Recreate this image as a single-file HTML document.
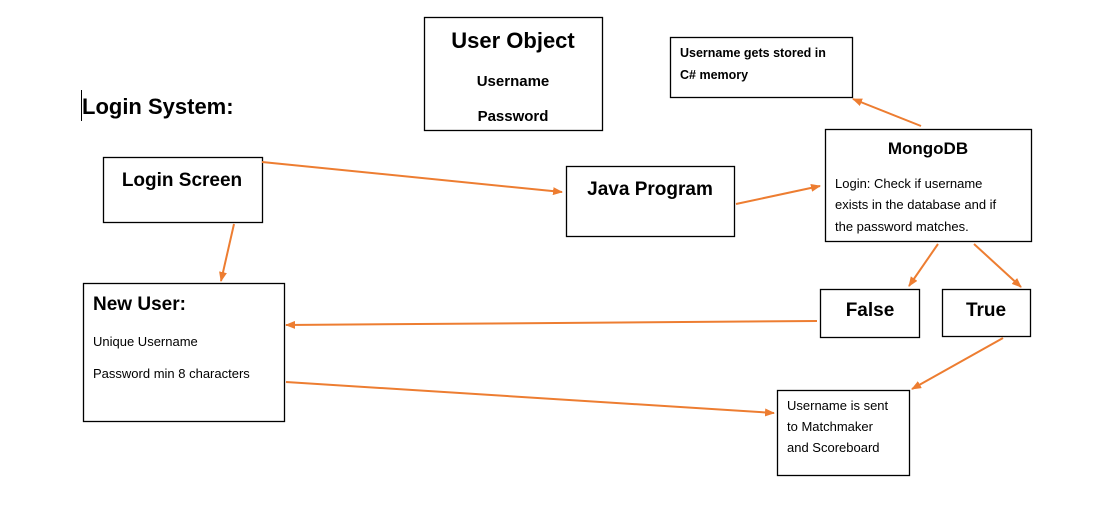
<!DOCTYPE html>
<html><head><style>
body{margin:0;background:#fff;}
svg{display:block;font-family:"Liberation Sans",sans-serif;}
.b{font-weight:bold;}
</style></head><body>
<svg width="1095" height="508" viewBox="0 0 1095 508">
<defs><marker id="a" markerWidth="10" markerHeight="8" refX="9" refY="4" orient="auto" markerUnits="userSpaceOnUse"><path d="M0,0 L10,4 L0,8 z" fill="#ED7D31"/></marker></defs>
<g fill="#fff" stroke="#000" stroke-width="1.3">
<rect x="424.5" y="17.5" width="178" height="113"/>
<rect x="670.5" y="37.5" width="182" height="60"/>
<rect x="103.5" y="157.5" width="159" height="65"/>
<rect x="566.5" y="166.5" width="168" height="70"/>
<rect x="825.5" y="129.5" width="206" height="112"/>
<rect x="83.5" y="283.5" width="201" height="138"/>
<rect x="820.5" y="289.5" width="99" height="48"/>
<rect x="942.5" y="289.5" width="88" height="47"/>
<rect x="777.5" y="390.5" width="132" height="85"/>
</g>
<g stroke="#ED7D31" stroke-width="2" marker-end="url(#a)">
<line x1="262" y1="162" x2="562" y2="192"/>
<line x1="736" y1="204" x2="820" y2="186"/>
<line x1="921" y1="126" x2="853" y2="99"/>
<line x1="234" y1="224" x2="221" y2="281"/>
<line x1="938" y1="244" x2="909" y2="286"/>
<line x1="974" y1="244" x2="1021" y2="287"/>
<line x1="817" y1="321" x2="286" y2="325"/>
<line x1="286" y1="382" x2="774" y2="413"/>
<line x1="1003" y1="338" x2="912" y2="389"/>
</g>
<line x1="81.5" y1="90" x2="81.5" y2="121" stroke="#000" stroke-width="1"/>
<g fill="#000">
<text x="82" y="114" font-size="22" class="b">Login System:</text>
<text x="513" y="48" font-size="22" class="b" text-anchor="middle">User Object</text>
<text x="513" y="86" font-size="15" class="b" text-anchor="middle">Username</text>
<text x="513" y="121" font-size="15" class="b" text-anchor="middle">Password</text>
<text x="680" y="57" font-size="12.5" class="b">Username gets stored in</text>
<text x="680" y="79" font-size="12.5" class="b">C# memory</text>
<text x="182" y="186" font-size="19" class="b" text-anchor="middle">Login Screen</text>
<text x="650" y="195" font-size="19" class="b" text-anchor="middle">Java Program</text>
<text x="928" y="154" font-size="17" class="b" text-anchor="middle">MongoDB</text>
<text x="835" y="188" font-size="13">Login: Check if username</text>
<text x="835" y="209" font-size="13">exists in the database and if</text>
<text x="835" y="231" font-size="13">the password matches.</text>
<text x="93" y="310" font-size="19" class="b">New User:</text>
<text x="93" y="346" font-size="13">Unique Username</text>
<text x="93" y="378" font-size="13">Password min 8 characters</text>
<text x="870" y="316" font-size="19" class="b" text-anchor="middle">False</text>
<text x="986" y="316" font-size="19" class="b" text-anchor="middle">True</text>
<text x="787" y="410" font-size="13">Username is sent</text>
<text x="787" y="431" font-size="13">to Matchmaker</text>
<text x="787" y="452" font-size="13">and Scoreboard</text>
</g>
</svg>
</body></html>
